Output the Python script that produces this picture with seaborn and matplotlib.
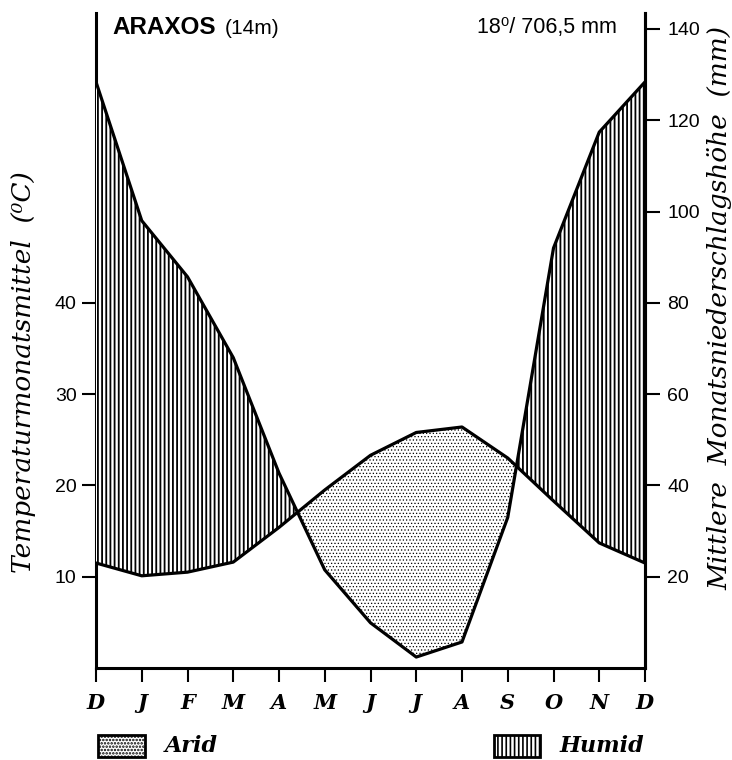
import numpy as np
import pandas as pd
import matplotlib
matplotlib.use("Agg")
import matplotlib.pyplot as plt
import seaborn as sns
from matplotlib.patches import Rectangle

# =========================
# Daten (Klimadiagramm Araxos)
# =========================
MONTHS = ["D", "J", "F", "M", "A", "M", "J", "J", "A", "S", "O", "N", "D"]
TEMP_C = [11.5, 10.1, 10.5, 11.6, 15.4, 19.5, 23.3, 25.8, 26.4, 23.0, 18.3, 13.7, 11.5]
PRECIP_MM = [128.4, 98.0, 85.7, 68.0, 42.7, 21.5, 9.9, 2.4, 5.7, 33.0, 92.0, 117.4, 128.4]
TEMP_TICKS = [10, 20, 30, 40]
PRECIP_TICKS = [20, 40, 60, 80, 100, 120, 140]

STATION = "ARAXOS"
HEIGHT = "(14m)"
SUMMARY = "18⁰/ 706,5 mm"

W, H = 732, 760
MM_PER_DEG = 2          # Walter-Lieth: 10 °C = 20 mm
MM_TOP = 143.5

sns.set_style("ticks")
plt.rcParams["font.family"] = ["Liberation Sans", "DejaVu Sans"]
plt.rcParams["text.color"] = "black"
plt.rcParams["hatch.linewidth"] = 1.2


def hatch_lw(coll, lw):
    f = getattr(coll, "set_hatch_linewidth", None)
    if f is not None:
        f(lw)


df = pd.DataFrame({
    "pos": np.arange(len(MONTHS)),
    "temp": TEMP_C,
    "precip": PRECIP_MM,
})
df["temp_mm"] = df["temp"] * MM_PER_DEG

fig = plt.figure(figsize=(W / 100, H / 100), dpi=100)
ax = fig.add_axes([96 / W, (H - 668) / H, 549 / W, 655 / H])
ax2 = ax.twinx()

# --- Flächen: humid / arid ---
humid = ax2.fill_between(df["pos"], df["temp_mm"], df["precip"],
                         where=df["precip"] >= df["temp_mm"], interpolate=True,
                         facecolor="white", edgecolor="black", hatch="||||",
                         linewidth=0)
hatch_lw(humid, 1.3)
arid = ax2.fill_between(df["pos"], df["temp_mm"], df["precip"],
                        where=df["precip"] <= df["temp_mm"], interpolate=True,
                        facecolor="white", edgecolor="black", hatch=".....",
                        linewidth=0)
hatch_lw(arid, 0.5)

# --- Kurven ---
sns.lineplot(data=df, x="pos", y="precip", ax=ax2, color="black", linewidth=2.3)
sns.lineplot(data=df, x="pos", y="temp_mm", ax=ax2, color="black", linewidth=2.3)

# --- Achsen ---
ax.set_xlim(0, len(MONTHS) - 1)
ax.set_ylim(0, MM_TOP / MM_PER_DEG)
ax2.set_ylim(0, MM_TOP)

ax.set_xticks(df["pos"])
ax.set_xticklabels(MONTHS, family=["DejaVu Serif"], fontweight="bold",
                   fontstyle="italic", fontsize=15)
ax.set_yticks(TEMP_TICKS)
ax.set_yticklabels([str(t) for t in TEMP_TICKS], fontsize=14)
ax2.set_yticks(PRECIP_TICKS)
ax2.set_yticklabels([str(t) for t in PRECIP_TICKS], fontsize=14)

ax.set_xlabel("")
ax.set_ylabel("")
ax2.set_xlabel("")
ax2.set_ylabel("")

for a in (ax, ax2):
    a.spines["top"].set_visible(False)
    for s in a.spines.values():
        s.set_linewidth(2.2)
        s.set_color("black")
ax2.spines["left"].set_visible(False)
ax2.spines["bottom"].set_visible(False)

ax.tick_params(axis="x", length=10, width=1.5, pad=8, colors="black")
ax.tick_params(axis="y", length=10, width=1.5, pad=4, colors="black")
ax2.tick_params(axis="y", length=11, width=1.5, pad=5, colors="black")

# --- Beschriftungen ---
fig.text(24 / W, 1 - 372 / H, "Temperaturmonatsmittel  (⁰C)", rotation=90,
         ha="center", va="center", fontsize=19, fontstyle="italic",
         family=["DejaVu Serif", "DejaVu Sans"])
fig.text(720 / W, 1 - 308 / H, "Mittlere  Monatsniederschlagshöhe  (mm)",
         rotation=90, ha="center", va="center", fontsize=19, fontstyle="italic",
         family=["DejaVu Serif", "DejaVu Sans"])

fig.text(112 / W, 1 - 27 / H, STATION, ha="left", va="center", fontsize=17.5,
         fontweight="bold")
fig.text(225 / W, 1 - 29 / H, HEIGHT, ha="left", va="center", fontsize=15)
fig.text(477 / W, 1 - 28 / H, SUMMARY, ha="left", va="center", fontsize=15.5)

# --- Legende ---
fig.patches.append(Rectangle((98 / W, 1 - 757 / H), 47 / W, 22 / H,
                             transform=fig.transFigure, facecolor="white",
                             edgecolor="black", linewidth=2, hatch="....."))
fig.text(165 / W, 1 - 746 / H, "Arid", ha="left", va="center", fontsize=16,
         fontweight="bold", fontstyle="italic", family=["DejaVu Serif"])
fig.patches.append(Rectangle((494 / W, 1 - 757 / H), 46 / W, 22 / H,
                             transform=fig.transFigure, facecolor="white",
                             edgecolor="black", linewidth=2, hatch="||||"))
fig.text(560 / W, 1 - 746 / H, "Humid", ha="left", va="center", fontsize=16,
         fontweight="bold", fontstyle="italic", family=["DejaVu Serif"])

fig.savefig("out.png", dpi=100)
